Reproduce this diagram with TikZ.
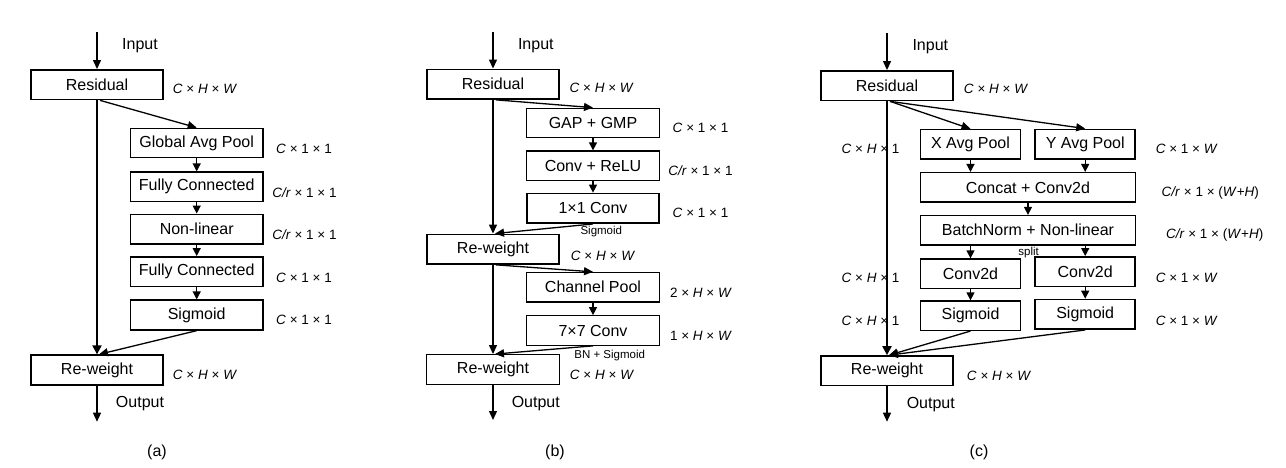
\documentclass[tikz,border=0pt]{standalone}
\usepackage{fontspec}
\setmainfont{Liberation Sans}
\usetikzlibrary{arrows.meta}
\begin{document}
\begin{tikzpicture}[x=1pt,y=-1pt,
  box/.style={draw,line width=1.2pt,inner sep=0pt,minimum height=29.5pt,font=\fontsize{16}{19}\selectfont},
  thick box/.style={box,line width=1.8pt},
  wA/.style={minimum width=132.6pt},
  wS/.style={minimum width=99.6pt},
  wL/.style={minimum width=214.6pt},
  dim/.style={inner sep=0pt,font=\fontsize{13.5}{16}\selectfont},
  small/.style={inner sep=0pt,font=\fontsize{11.5}{14}\selectfont},
  lbl/.style={inner sep=0pt,font=\fontsize{16}{19}\selectfont},
  arr/.style={line width=1.3pt,-{Triangle[length=9pt,width=8pt]}},
  main/.style={line width=2pt,-{Triangle[length=9pt,width=9pt]}},
  sarr/.style={line width=1.3pt,-{Triangle[length=8pt,width=8pt]}}
]
\useasboundingbox (0,0) rectangle (1286,467);

% ---------------- (a) ----------------
\node[thick box,wA] (resA) at (97,84.7) {Residual};
\node[box,wA] (gapA) at (196.7,143) {Global Avg Pool};
\node[box,wA] (fc1A) at (196.7,186.7) {Fully Connected};
\node[thick box,wA] (nlA) at (196.7,229.2) {Non-linear};
\node[thick box,wA] (fc2A) at (196.7,271.7) {Fully Connected};
\node[thick box,wA] (sigA) at (196.7,315) {Sigmoid};
\node[thick box,wA] (rwA) at (97,370) {Re-weight};
\coordinate (inA) at (97,32);
\coordinate (outA) at (97,421.7);
\node[lbl] (tinA) at (140,46) {Input};
\node[lbl] (toutA) at (140,404) {Output};
\node[lbl] (capA) at (157,452) {(a)};
\node[dim] (dA1) at (205,89) {\textit{C} × \textit{H} × \textit{W}};
\node[dim] (dA2) at (304,149) {\textit{C} × 1 × 1};
\node[dim] (dA3) at (304.5,192.7) {\textit{C/r} × 1 × 1};
\node[dim] (dA4) at (304.5,235) {\textit{C/r} × 1 × 1};
\node[dim] (dA5) at (304,278) {\textit{C} × 1 × 1};
\node[dim] (dA6) at (304,320) {\textit{C} × 1 × 1};
\node[dim] (dA7) at (205,375) {\textit{C} × \textit{H} × \textit{W}};
\draw[arr] (inA) -- (resA.north);
\draw[main] (resA.south) -- (rwA.north);
\draw[arr] ([xshift=3pt]resA.south) -- (gapA.north);
\draw[sarr] (gapA.south) -- (fc1A.north);
\draw[sarr] (fc1A.south) -- (nlA.north);
\draw[sarr] (nlA.south) -- (fc2A.north);
\draw[sarr] (fc2A.south) -- (sigA.north);
\draw[arr] (sigA.south) -- ([xshift=2pt]rwA.north);
\draw[arr] (rwA.south) -- (outA);

% ---------------- (b) ----------------
\node[thick box,wA] (resB) at (493,84.2) {Residual};
\node[box,wA] (gapB) at (593,123) {GAP + GMP};
\node[box,wA] (convB) at (593,165.7) {Conv + ReLU};
\node[thick box,wA] (c11B) at (593,208.3) {1×1 Conv};
\node[thick box,wA] (rw1B) at (493,249.2) {Re-weight};
\node[box,wA] (cpB) at (593,287.2) {Channel Pool};
\node[box,wA] (c77B) at (593,330.5) {7×7 Conv};
\node[box,wA] (rw2B) at (493,369.4) {Re-weight};
\coordinate (inB) at (493,32);
\coordinate (outB) at (493,420);
\node[lbl] (tinB) at (535.8,46) {Input};
\node[lbl] (toutB) at (535.8,404) {Output};
\node[lbl] (capB) at (555,452) {(b)};
\node[dim] (dB1) at (601.7,88) {\textit{C} × \textit{H} × \textit{W}};
\node[dim] (dB2) at (700.5,127.7) {\textit{C} × 1 × 1};
\node[dim] (dB3) at (700.5,171) {\textit{C/r} × 1 × 1};
\node[dim] (dB4) at (700.5,213.3) {\textit{C} × 1 × 1};
\node[small] (sB1) at (601.3,231.7) {Sigmoid};
\node[dim] (dB5) at (603,256) {\textit{C} × \textit{H} × \textit{W}};
\node[dim] (dB6) at (701,292.7) {2 × \textit{H} × \textit{W}};
\node[dim] (dB7) at (701,336) {1 × \textit{H} × \textit{W}};
\node[small] (sB2) at (609.7,356) {BN + Sigmoid};
\node[dim] (dB8) at (602,375) {\textit{C} × \textit{H} × \textit{W}};
\draw[arr] (inB) -- (resB.north);
\draw[arr] (resB.south) -- (rw1B.north);
\draw[arr] ([xshift=3pt]resB.south) -- (gapB.north);
\draw[sarr] (gapB.south) -- (convB.north);
\draw[sarr] (convB.south) -- (c11B.north);
\draw[arr] (c11B.south) -- ([xshift=2pt]rw1B.north);
\draw[arr] (rw1B.south) -- (rw2B.north);
\draw[arr] ([xshift=3pt]rw1B.south) -- (cpB.north);
\draw[sarr] (cpB.south) -- (c77B.north);
\draw[arr] (c77B.south) -- ([xshift=2pt]rw2B.north);
\draw[arr] (rw2B.south) -- (outB);

% ---------------- (c) ----------------
\node[dim] (dC2) at (870.5,149.3) {\textit{C} × \textit{H} × 1};
\node[dim] (dC6) at (870.5,278.3) {\textit{C} × \textit{H} × 1};
\node[dim] (dC8) at (870.5,320.7) {\textit{C} × \textit{H} × 1};
\node[thick box,wA] (resC) at (887,85.7) {Residual};
\node[box,wS] (xpC) at (970.5,144.2) {X Avg Pool};
\node[thick box,minimum width=100.3pt] (ypC) at (1085.2,144.2) {Y Avg Pool};
\node[box,wL] (ccC) at (1028,187.3) {Concat + Conv2d};
\node[box,wL] (bnC) at (1028,230.2) {BatchNorm + Non-linear};
\node[small] (spC) at (1028.7,252.3) {split};
\node[box,wS] (cv1C) at (970.5,273.7) {Conv2d};
\node[thick box,minimum width=100.3pt] (cv2C) at (1085.2,271.7) {Conv2d};
\node[box,wS] (sg1C) at (970.5,315.7) {Sigmoid};
\node[thick box,minimum width=100.3pt] (sg2C) at (1085.2,314.3) {Sigmoid};
\node[thick box,wA] (rwC) at (887,370.8) {Re-weight};
\coordinate (inC) at (887,33);
\coordinate (outC) at (887,421.7);
\node[lbl] (tinC) at (930.3,46.7) {Input};
\node[lbl] (toutC) at (930.8,405) {Output};
\node[lbl] (capC) at (979,452) {(c)};
\node[dim] (dC1) at (996,89.3) {\textit{C} × \textit{H} × \textit{W}};
\node[dim] (dC3) at (1186.7,149.3) {\textit{C} × 1 × \textit{W}};
\node[dim] (dC4) at (1210.3,193.3) {\textit{C/r} × 1 × (\textit{W}+\textit{H})};
\node[dim] (dC5) at (1214.7,235) {\textit{C/r} × 1 × (\textit{W}+\textit{H})};
\node[dim] (dC7) at (1186.7,278) {\textit{C} × 1 × \textit{W}};
\node[dim] (dC9) at (1186.7,320.7) {\textit{C} × 1 × \textit{W}};
\node[dim] (dC10) at (999,375.7) {\textit{C} × \textit{H} × \textit{W}};
\draw[arr] (inC) -- (resC.north);
\draw[main] (resC.south) -- (rwC.north);
\draw[arr] ([xshift=3pt]resC.south) -- (xpC.north);
\draw[arr] ([xshift=3pt]resC.south) -- (ypC.north);
\draw[sarr] (xpC.south) -- (xpC.south |- ccC.north);
\draw[sarr] (ypC.south) -- (ypC.south |- ccC.north);
\draw[sarr] (ccC.south) -- (bnC.north);
\draw[sarr] (cv1C.north |- bnC.south) -- (cv1C.north);
\draw[sarr] (cv2C.north |- bnC.south) -- (cv2C.north);
\draw[sarr] (cv1C.south) -- (sg1C.north);
\draw[sarr] (cv2C.south) -- (sg2C.north);
\draw[arr] (sg1C.south) -- ([xshift=2pt]rwC.north);
\draw[arr] (sg2C.south) -- ([xshift=2pt]rwC.north);
\draw[arr] (rwC.south) -- (outC);
\end{tikzpicture}
\end{document}
